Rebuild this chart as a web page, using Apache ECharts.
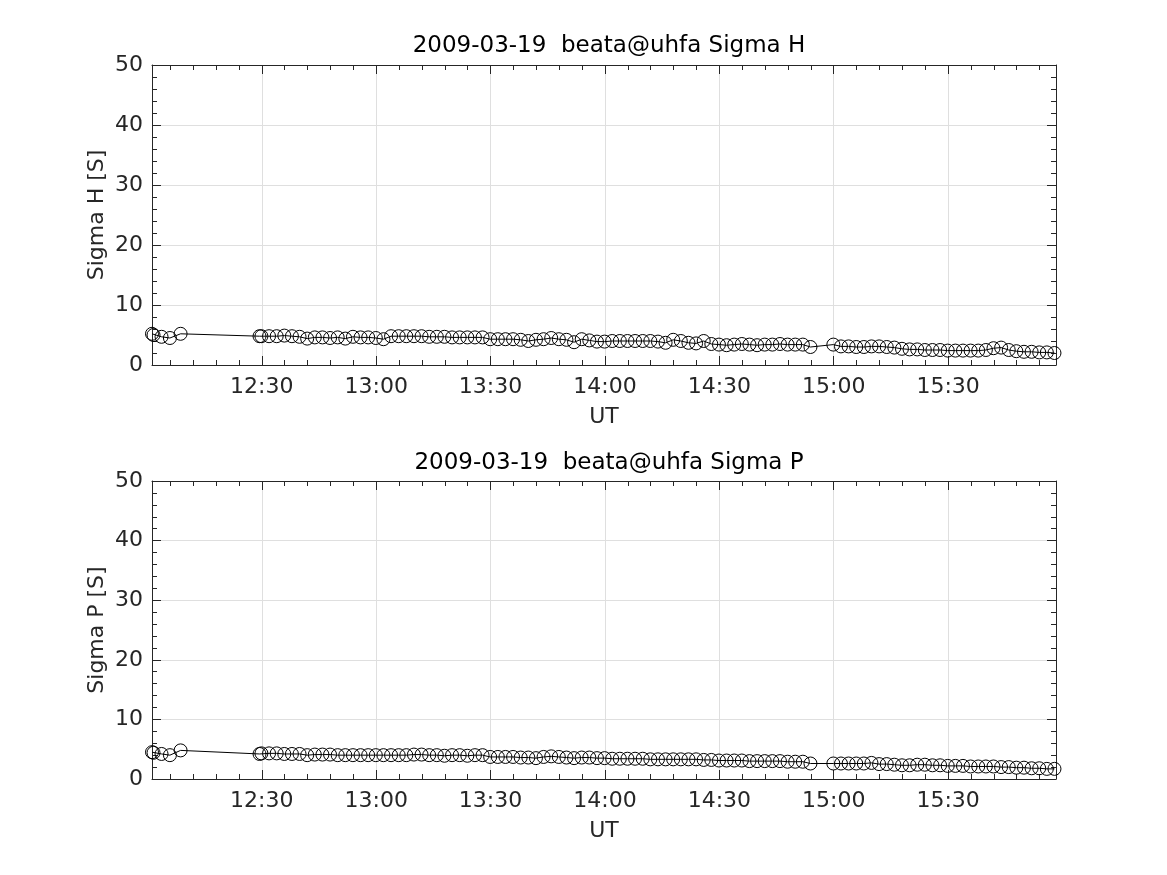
<!DOCTYPE html>
<html>
<head>
<meta charset="utf-8">
<script src="https://cdn.jsdelivr.net/npm/echarts@6/dist/echarts.min.js"></script>
<style>
html,body{margin:0;padding:0;background:#fff;}
#chart{width:1167px;height:875px;}
</style>
</head>
<body>
<div id="chart"></div>
<script>
// Time of each sample, minutes after 12:00 UT
const timesMin = [
  1.2, 1.6, 3.7, 5.9, 8.7,
  29.4,
  29.9, 31.9, 33.9, 35.9, 37.9, 39.9, 41.9, 43.9, 45.9, 47.9, 49.9, 51.9, 53.9, 55.9, 57.9,
  59.9, 61.9, 63.9, 65.9, 67.9, 69.9, 71.9, 73.9, 75.9, 77.9, 79.9, 81.9, 83.9, 85.9, 87.9,
  89.9, 91.9, 93.9, 95.9, 97.9, 99.9, 101.9, 103.9, 105.9, 107.9, 109.9, 111.9, 113.9, 115.9, 117.9,
  119.9, 121.9, 123.9, 125.9, 127.9, 129.9, 131.9, 133.9, 135.9, 137.9, 139.9, 141.9, 143.9, 145.9, 147.9,
  149.9, 151.9, 153.9, 155.9, 157.9, 159.9, 161.9, 163.9, 165.9, 167.9, 169.9, 171.9, 173.9,
  179.9, 181.9, 183.9, 185.9, 187.9, 189.9, 191.9, 193.9, 195.9, 197.9, 199.9, 201.9, 203.9, 205.9, 207.9,
  209.9, 211.9, 213.9, 215.9, 217.9, 219.9, 221.9, 223.9, 225.9, 227.9, 229.9, 231.9, 233.9, 235.9, 237.9
];

const sigmaH = [
  5.2, 5.0, 4.7, 4.5, 5.2,
  4.8,
  4.8, 4.8, 4.8, 4.9, 4.8, 4.7, 4.4, 4.6, 4.6, 4.5, 4.6, 4.4, 4.7, 4.6, 4.6,
  4.5, 4.3, 4.8, 4.8, 4.8, 4.8, 4.8, 4.7, 4.7, 4.7, 4.6, 4.6, 4.6, 4.6, 4.6,
  4.3, 4.3, 4.3, 4.3, 4.2, 4.0, 4.2, 4.3, 4.5, 4.3, 4.2, 3.8, 4.3, 4.1, 3.9,
  3.9, 4.0, 4.0, 4.0, 4.0, 4.0, 4.0, 3.9, 3.7, 4.2, 4.0, 3.7, 3.6, 4.0, 3.5,
  3.4, 3.3, 3.4, 3.5, 3.4, 3.3, 3.4, 3.4, 3.5, 3.4, 3.4, 3.4, 3.0,
  3.4, 3.1, 3.1, 3.0, 3.0, 3.1, 3.1, 3.0, 2.9, 2.7, 2.6, 2.6, 2.5, 2.5, 2.5,
  2.4, 2.4, 2.4, 2.4, 2.4, 2.5, 2.8, 2.9, 2.5, 2.3, 2.2, 2.2, 2.1, 2.1, 2.0
];

const sigmaP = [
  4.5, 4.4, 4.2, 4.0, 4.8,
  4.2,
  4.3, 4.3, 4.3, 4.2, 4.2, 4.2, 4.0, 4.1, 4.1, 4.1, 4.0, 4.0, 4.0, 4.0, 4.0,
  4.0, 4.0, 4.0, 4.0, 4.0, 4.1, 4.1, 4.0, 4.0, 3.9, 4.0, 4.0, 3.9, 4.0, 4.0,
  3.7, 3.7, 3.7, 3.7, 3.6, 3.6, 3.5, 3.7, 3.8, 3.7, 3.6, 3.5, 3.6, 3.6, 3.5,
  3.5, 3.4, 3.4, 3.4, 3.4, 3.4, 3.3, 3.3, 3.3, 3.3, 3.3, 3.3, 3.3, 3.2, 3.2,
  3.1, 3.1, 3.1, 3.1, 3.0, 3.0, 3.0, 3.0, 3.0, 2.9, 2.9, 2.9, 2.6,
  2.6, 2.6, 2.6, 2.6, 2.6, 2.7, 2.5, 2.5, 2.4, 2.3, 2.3, 2.4, 2.4, 2.3, 2.3,
  2.2, 2.2, 2.2, 2.1, 2.1, 2.1, 2.1, 2.0, 2.0, 1.9, 1.9, 1.8, 1.8, 1.7, 1.7
];

const majorTicksMin = [30, 60, 90, 120, 150, 180, 210];
const minorTicksMin = [6, 12, 18, 24, 36, 42, 48, 54, 66, 72, 78, 84, 96, 102, 108, 114,
  126, 132, 138, 144, 156, 162, 168, 174, 186, 192, 198, 204, 216, 222, 228, 234];
const titles = ['2009-03-19  beata@uhfa Sigma H', '2009-03-19  beata@uhfa Sigma P'];
const yNames = ['Sigma H [S]', 'Sigma P [S]'];
const xName = 'UT';
const xMin = 1.2, xMax = 238.3;
const yMin = 0, yMax = 50, yStep = 10;

const FONT = 'DejaVu Sans';
const AX = '#262626';
const GRIDC = '#dfdfdf';

function fmt(v) {
  const h = 12 + Math.floor(v / 60);
  const m = Math.round(v % 60);
  return h + ':' + (m < 10 ? '0' + m : m);
}

const grids = [
  {left: 152, top: 65, width: 904, height: 300},
  {left: 152, top: 481, width: 904, height: 298}
];

const xAxes = [];
const yAxes = [];
const series = [];
const datasets = [sigmaH, sigmaP];

grids.forEach((g, gi) => {
  const base = {type: 'value', gridIndex: gi, min: xMin, max: xMax};
  xAxes.push(Object.assign({}, base, {
    position: 'bottom',
    name: xName, nameLocation: 'middle', nameGap: 41, nameMoveOverlap: false,
    nameTextStyle: {fontFamily: FONT, fontSize: 22, color: AX},
    axisLine: {show: true, lineStyle: {color: AX, width: 1}},
    axisTick: {show: true, inside: true, length: 9, customValues: majorTicksMin, lineStyle: {color: AX}},
    axisLabel: {show: true, customValues: majorTicksMin, formatter: fmt, margin: 11,
      fontFamily: FONT, fontSize: 22, color: AX},
    splitLine: {show: true, lineStyle: {color: GRIDC, width: 1}}
  }));
  xAxes.push(Object.assign({}, base, {
    position: 'bottom',
    axisLine: {show: false},
    axisTick: {show: true, inside: true, length: 5, customValues: minorTicksMin, lineStyle: {color: AX}},
    axisLabel: {show: false},
    splitLine: {show: false}
  }));
  xAxes.push(Object.assign({}, base, {
    position: 'top',
    axisLine: {show: true, lineStyle: {color: AX, width: 1}},
    axisTick: {show: true, inside: true, length: 9, customValues: majorTicksMin, lineStyle: {color: AX}},
    axisLabel: {show: false},
    splitLine: {show: false}
  }));
  xAxes.push(Object.assign({}, base, {
    position: 'top',
    axisLine: {show: false},
    axisTick: {show: true, inside: true, length: 5, customValues: minorTicksMin, lineStyle: {color: AX}},
    axisLabel: {show: false},
    splitLine: {show: false}
  }));

  const ybase = {type: 'value', gridIndex: gi, min: yMin, max: yMax, interval: yStep};
  yAxes.push(Object.assign({}, ybase, {
    position: 'left',
    name: yNames[gi], nameLocation: 'middle', nameGap: 44, nameRotate: 90, nameMoveOverlap: false,
    nameTextStyle: {fontFamily: FONT, fontSize: 22, color: AX},
    axisLine: {show: true, lineStyle: {color: AX, width: 1}},
    axisTick: {show: true, inside: true, length: 9, lineStyle: {color: AX}},
    minorTick: {show: true, splitNumber: 5, length: 5, lineStyle: {color: AX}},
    axisLabel: {show: true, margin: 9, fontFamily: FONT, fontSize: 22, color: AX},
    splitLine: {show: true, lineStyle: {color: GRIDC, width: 1}}
  }));
  yAxes.push(Object.assign({}, ybase, {
    position: 'right',
    axisLine: {show: true, lineStyle: {color: AX, width: 1}},
    axisTick: {show: true, inside: true, length: 9, lineStyle: {color: AX}},
    minorTick: {show: true, splitNumber: 5, length: 5, lineStyle: {color: AX}},
    axisLabel: {show: false},
    splitLine: {show: false}
  }));

  series.push({
    type: 'line',
    xAxisIndex: gi * 4,
    yAxisIndex: gi * 2,
    data: timesMin.map((t, i) => [t, datasets[gi][i]]),
    symbol: 'circle',
    symbolSize: 13,
    showSymbol: true,
    clip: false,
    itemStyle: {color: 'rgba(0,0,0,0)', borderColor: '#000', borderWidth: 1},
    lineStyle: {color: '#000', width: 1},
    emphasis: {disabled: true},
    z: 5
  });
});

const chart = echarts.init(document.getElementById('chart'), null, {renderer: 'canvas'});
chart.setOption({
  backgroundColor: '#fff',
  animation: false,
  title: [
    {text: titles[0], left: 604, top: 30, textAlign: 'center',
      textStyle: {fontFamily: FONT, fontSize: 23, fontWeight: 'normal', color: '#000'}},
    {text: titles[1], left: 604, top: 447, textAlign: 'center',
      textStyle: {fontFamily: FONT, fontSize: 23, fontWeight: 'normal', color: '#000'}}
  ],
  grid: grids,
  xAxis: xAxes,
  yAxis: yAxes,
  series: series
});
</script>
</body>
</html>
